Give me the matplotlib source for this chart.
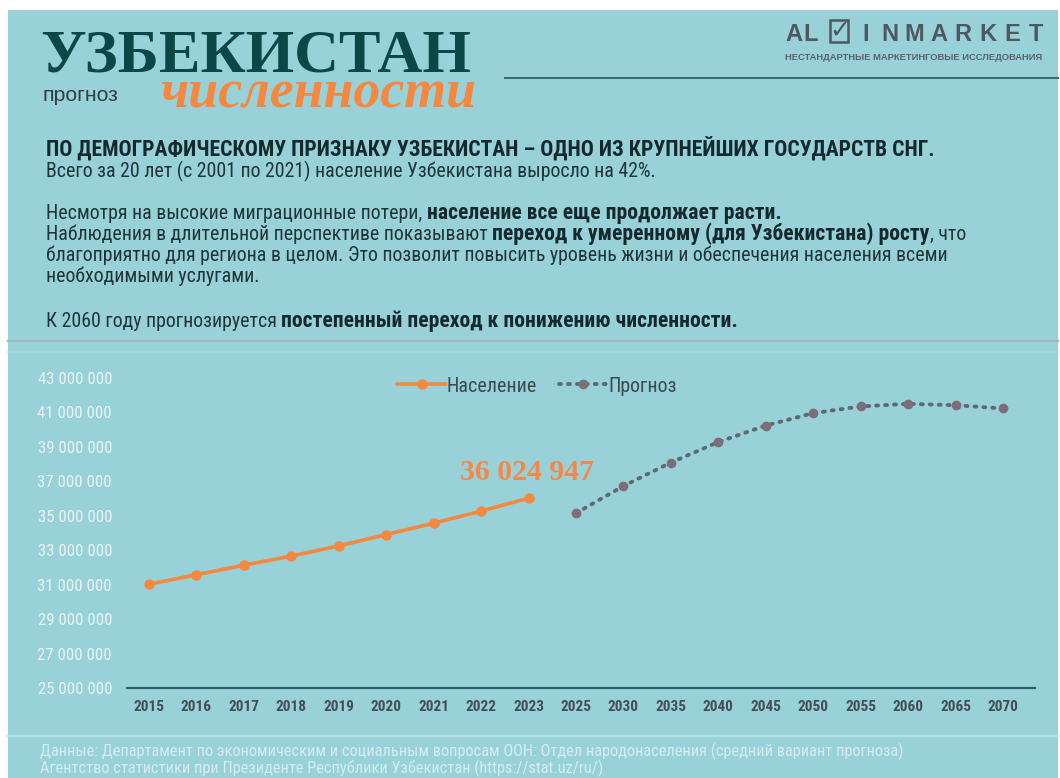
import matplotlib
matplotlib.use('Agg')
import matplotlib.pyplot as plt
from matplotlib import font_manager
from matplotlib.lines import Line2D
from matplotlib.patches import Rectangle
import matplotlib.ticker as mticker

# ---------------- data ----------------
years = ['2015', '2016', '2017', '2018', '2019', '2020', '2021', '2022', '2023',
         '2025', '2030', '2035', '2040', '2045', '2050', '2055', '2060', '2065', '2070']
population = [31_020_000, 31_580_000, 32_130_000, 32_660_000, 33_250_000,
              33_910_000, 34_570_000, 35_270_000, 36_024_947]
forecast = [35_150_000, 36_730_000, 38_090_000, 39_280_000, 40_240_000,
            40_960_000, 41_350_000, 41_500_000, 41_420_000, 41_230_000]
series_names = ['Население', 'Прогноз']
last_value_label = '36 024 947'
y_ticks = list(range(25_000_000, 43_000_001, 2_000_000))

# ---------------- styling ----------------
W, H = 1060, 778
BG = '#98D2D8'
ORANGE = '#F5873F'
DOT = '#5E6A72'
DOTM = '#7C6E78'
DARK = '#1E3438'

names = {f.name for f in font_manager.fontManager.ttflist}
def pick(cands, default='DejaVu Sans'):
    for c in cands:
        if c in names:
            return c
    return default
SANS = pick(['Roboto Condensed', 'Liberation Sans Narrow', 'Open Sans Condensed', 'DejaVu Sans'])
SERIF = pick(['Liberation Serif', 'DejaVu Serif'], 'DejaVu Serif')
ARIAL = pick(['Liberation Sans', 'DejaVu Sans'])

fig = plt.figure(figsize=(W / 100, H / 100), dpi=100)
fig.patch.set_facecolor('white')
r = fig.canvas.get_renderer()

def fx(x): return x / W
def fy(y): return 1 - y / H

fig.add_artist(Rectangle((fx(8), 0), (1058 - 8) / W, (H - 10) / H,
                         transform=fig.transFigure, facecolor=BG, edgecolor='none', zorder=0))

def size_for(s, target_w, base=20, **kw):
    t = fig.text(0, 0, s, fontsize=base, **kw)
    w = t.get_window_extent(renderer=r).width
    t.remove()
    return base * target_w / w

def fitted(x, y, s, target_w, **kw):
    fs = size_for(s, target_w, **{k: v for k, v in kw.items() if k in ('family', 'weight', 'style')})
    return fig.text(fx(x), fy(y), s, fontsize=fs, **kw)

# ---------------- header ----------------
fitted(40, 72, 'УЗБЕКИСТАН', 430, family=SERIF, weight='bold', color='#0C4748', va='baseline')
fitted(42, 101, 'прогноз', 76, family=ARIAL, color='#2E3D42', va='baseline')
fitted(160, 108, 'численности', 316, family=SERIF, style='italic', weight='bold',
       color=ORANGE, va='baseline')

LOGO = '#4E5860'
for ch, cx in zip('AL', [794, 811]):
    fig.text(fx(cx), fy(41), ch, fontsize=17, family=ARIAL, weight='bold', color=LOGO,
             ha='center', va='baseline')
fig.add_artist(Rectangle((fx(830), fy(42)), 18 / W, 22 / H, transform=fig.transFigure,
                         facecolor='none', edgecolor=LOGO, lw=1.8))
fig.text(fx(840), fy(31), '✓', fontsize=18, family='DejaVu Sans', color=LOGO,
         ha='center', va='center')
for i, ch in enumerate('INMARKET'):
    fig.text(fx(866 + i * 24.3), fy(41), ch, fontsize=17, family=ARIAL, weight='bold',
             color=LOGO, ha='center', va='baseline')
fitted(785, 58, 'НЕСТАНДАРТНЫЕ МАРКЕТИНГОВЫЕ ИССЛЕДОВАНИЯ', 258, family=ARIAL,
       weight='bold', color='#5A6169', va='center')
fig.add_artist(Line2D([fx(505), fx(1058)], [fy(78), fy(78)], transform=fig.transFigure,
                      color='#3A6A70', lw=1.5))

# ---------------- body text ----------------
lines = [
    (156, [('ПО ДЕМОГРАФИЧЕСКОМУ ПРИЗНАКУ УЗБЕКИСТАН – ОДНО ИЗ КРУПНЕЙШИХ ГОСУДАРСТВ СНГ.', True)]),
    (177, [('Всего за 20 лет (с 2001 по 2021) население Узбекистана выросло на 42%.', False)]),
    (219, [('Несмотря на высокие миграционные потери,', False),
           (' население все еще продолжает расти.', True)]),
    (240, [('Наблюдения в длительной перспективе показывают', False),
           (' переход к умеренному (для Узбекистана) росту', True), (', что', False)]),
    (261, [('благоприятно для региона в целом. Это позволит повысить уровень жизни и обеспечения населения всеми', False)]),
    (282, [('необходимыми услугами.', False)]),
    (327, [('К 2060 году прогнозируется', False),
           (' постепенный переход к понижению численности.', True)]),
]

REG = size_for(lines[1][1][0][0], 609, family=SANS)
BOLD = size_for(lines[0][1][0][0], 889, family=SANS, weight='bold')

def space_w(fs):
    a = fig.text(0, 0, 'a a', fontsize=fs, family=SANS)
    b = fig.text(0, 0, 'aa', fontsize=fs, family=SANS)
    w = a.get_window_extent(renderer=r).width - b.get_window_extent(renderer=r).width
    a.remove(); b.remove()
    return w

def draw_rich(x, y, segs):
    cx = x
    for txt, bold in segs:
        fs = BOLD if bold else REG
        if txt.startswith(' '):
            cx += space_w(REG)
        t = fig.text(fx(cx), fy(y), txt.strip(), fontsize=fs, family=SANS,
                     weight='bold' if bold else 'normal',
                     color='#13292D' if bold else DARK, va='baseline')
        cx += t.get_window_extent(renderer=r).width

for y, segs in lines:
    draw_rich(46, y, segs)

fig.add_artist(Line2D([fx(8), fx(1058)], [fy(340.5), fy(340.5)], transform=fig.transFigure,
                      color='#9FB9BB', lw=1.6))
fig.add_artist(Line2D([fx(8), fx(1058)], [fy(352), fy(352)], transform=fig.transFigure,
                      color='#A7D9DE', lw=1.2))
fig.add_artist(Line2D([fx(8), fx(1058)], [fy(736), fy(736)], transform=fig.transFigure,
                      color='#B9E1E5', lw=1.6))

# ---------------- chart ----------------
ax = fig.add_axes([fx(127), fy(688), (1035 - 127) / W, (688 - 378) / H])
ax.set_facecolor('none')
xp = list(range(len(population)))
xf = list(range(len(population), len(years)))
ax.plot(xp, population, color=ORANGE, lw=2.6, marker='o', ms=6.5,
        solid_capstyle='round', label=series_names[0], zorder=3)
ax.plot(xf, forecast, color=DOT, lw=2.8, ls=(0, (0.5, 1.8)), dash_capstyle='round',
        marker='o', ms=6, mfc=DOTM, mec=DOTM, label=series_names[1], zorder=3)

ax.set_xlim(-0.464, 18.675)
ax.set_ylim(y_ticks[0], y_ticks[-1])
ax.set_xticks(range(len(years)))
ax.set_xticklabels(years)
ax.set_yticks(y_ticks)
ax.yaxis.set_major_formatter(mticker.FuncFormatter(lambda v, p: f'{int(v):,}'.replace(',', ' ')))
for s in ['top', 'right', 'left']:
    ax.spines[s].set_visible(False)
ax.spines['bottom'].set_color('#2E5E66')
ax.spines['bottom'].set_linewidth(1.6)

ysz = size_for('43 000 000', 74, family=SANS)
xsz = size_for('2015', 31, family=SANS, weight='bold')
ax.tick_params(axis='y', length=0, pad=10.8, labelsize=ysz, labelcolor='#E9F4F5')
ax.tick_params(axis='x', length=0, pad=8.5, labelsize=xsz, labelcolor='#444E54')
for lab in ax.get_yticklabels():
    lab.set_family(SANS)
for lab in ax.get_xticklabels():
    lab.set_family(SANS)
    lab.set_fontweight('bold')

ax.annotate(last_value_label, xy=(xp[-1], population[-1]), xytext=(-2, 26),
            textcoords='offset pixels', ha='center', va='center',
            fontsize=size_for(last_value_label, 134, family=SERIF, weight='bold'),
            family=SERIF, weight='bold', color='#F4874A')

lsz = size_for(series_names[0], 90, family=SANS)
fig.legend(loc='center', bbox_to_anchor=(fx(537), fy(386)), ncol=2, frameon=False,
           prop=dict(family=SANS, size=lsz), labelcolor='#3A4A50', handlelength=2.4,
           handletextpad=0.05, columnspacing=1.1)

# ---------------- footer ----------------
foot1 = 'Данные: Департамент по экономическим и социальным вопросам ООН: Отдел народонаселения (средний вариант прогноза)'
foot2 = 'Агентство статистики при Президенте Республики Узбекистан (https://stat.uz/ru/)'
fsz = size_for(foot1, 860, family=SANS)
fig.text(fx(40), fy(743), foot1 + '\n' + foot2, fontsize=fsz, family=SANS, color='#D4EDF0',
         va='top', linespacing=0.98)

fig.savefig('out.png', dpi=100, facecolor=fig.get_facecolor())
